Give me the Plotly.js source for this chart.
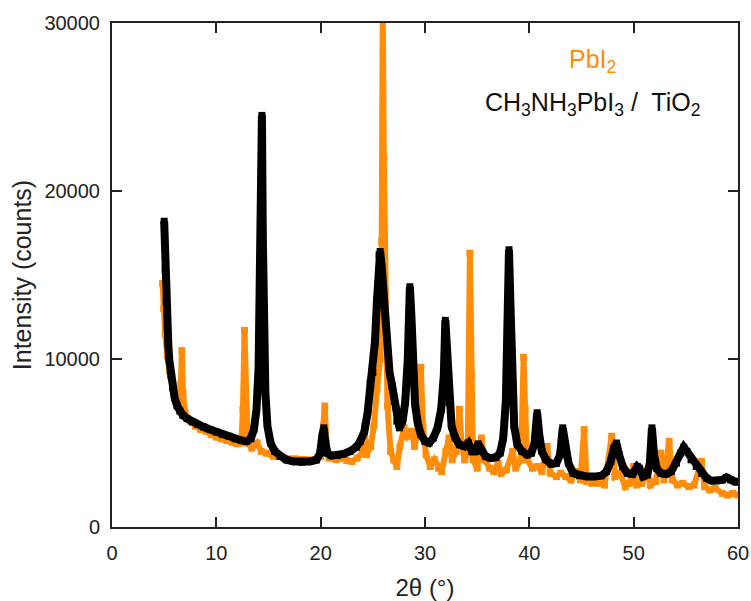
<!DOCTYPE html>
<html>
<head>
<meta charset="utf-8">
<script src="https://cdn.plot.ly/plotly-3.0.1.min.js"></script>
<style>html,body{margin:0;padding:0;background:#fff;}#chart{width:751px;height:601px;}</style>
</head>
<body>
<div id="chart"></div>
<script>
// CH3NH3PbI3 / TiO2 (black)
var perovX = [5.0,5.05,5.1,5.2,5.3,5.4,5.5,5.65,5.8,6.0,6.25,6.5,6.8,7.2,7.7,8.2,8.8,9.4,10.0,10.6,11.2,11.8,12.4,12.9,13.3,13.6,13.85,14.05,14.2,14.3,14.37,14.45,14.55,14.7,14.9,15.2,15.6,16.1,16.7,17.4,18.2,19.0,19.6,19.95,20.15,20.3,20.45,20.65,21.0,21.6,22.2,22.8,23.4,23.8,24.2,24.5,24.75,25.0,25.2,25.4,25.6,25.7,25.85,26.0,26.2,26.4,26.6,26.85,27.05,27.3,27.55,27.85,28.1,28.35,28.55,28.7,28.85,29.05,29.3,29.6,30.0,30.4,30.8,31.2,31.55,31.8,31.95,32.1,32.3,32.55,32.9,33.3,33.8,34.15,34.5,34.8,35.1,35.4,35.8,36.3,36.8,37.2,37.5,37.75,37.92,38.05,38.2,38.35,38.55,38.85,39.3,39.8,40.2,40.5,40.75,40.95,41.2,41.6,42.1,42.6,42.95,43.2,43.45,43.75,44.2,44.8,45.5,46.2,46.9,47.4,47.8,48.1,48.35,48.6,48.95,49.4,49.9,50.35,50.55,50.9,51.3,51.55,51.75,51.95,52.2,52.6,53.1,53.6,54.1,54.5,54.8,55.1,55.5,56.0,56.5,57.0,57.5,58.0,58.5,58.9,59.3,59.7,60.0];
var perovY = [18200,16800,15300,13400,11900,10800,9900,9000,8300,7700,7200,6900,6650,6450,6250,6100,5950,5800,5650,5500,5400,5250,5150,5100,5250,5800,7000,9500,14000,20000,24500,17500,11500,8000,6000,5000,4500,4200,4000,3900,3850,3900,4000,4400,5400,5900,5000,4400,4250,4250,4350,4500,4750,5100,5700,6800,8600,9200,11000,13500,16200,16400,15500,14000,12500,10500,9200,8400,7500,6300,5900,6300,7400,10000,14300,12500,9500,7300,6200,5500,5100,5000,5300,5900,7000,9000,12300,10500,7400,6000,5300,4900,4800,5000,4500,4500,4950,4500,4200,4100,4150,4400,5300,7500,11500,16500,13000,9000,6000,4900,4500,4300,4400,5000,6800,5500,4500,4000,3750,3800,4300,5900,4700,3800,3200,3050,3000,3000,3050,3300,3900,4700,5000,4300,3600,3200,3150,3600,3500,3000,3100,3800,5900,4300,3500,3200,3150,3300,3800,4400,4750,4500,4000,3600,3200,2900,2750,2750,2800,2950,2800,2700,2700];

// PbI2 (orange)
var pbi2X = [4.85,4.95,5.1,5.3,5.5,5.8,6.1,6.4,6.6,6.7,6.8,7.0,7.5,8.0,8.5,9.0,9.5,10.0,10.5,11.0,11.5,12.0,12.4,12.55,12.7,12.85,13.0,13.4,13.9,14.3,14.8,15.5,16.5,17.5,18.5,19.5,20.0,20.3,20.4,20.55,20.8,21.5,22.0,22.5,23.0,23.5,24.0,24.2,24.4,24.8,25.1,25.4,25.7,25.85,25.95,26.05,26.2,26.4,26.7,27.0,27.3,27.6,28.0,28.3,28.7,29.0,29.4,29.6,29.8,30.1,30.5,30.9,31.3,31.6,32.0,32.3,32.6,33.0,33.3,33.5,33.8,34.1,34.3,34.45,34.6,35.0,35.4,35.7,36.2,36.6,37.0,37.3,37.8,38.4,38.7,39.2,39.45,39.6,39.8,40.3,40.8,41.2,41.7,42.0,42.6,43.0,43.5,44.0,44.5,44.9,45.25,45.5,46.0,46.6,47.2,47.9,48.2,48.7,49.2,49.6,50.0,50.3,50.8,51.3,51.6,52.1,52.6,52.9,53.4,53.7,54.2,54.7,55.3,55.8,56.5,56.8,57.3,57.8,58.5,59.0,59.5,60.0];
var pbi2Y = [14500,13000,11500,10200,9300,8300,7500,7200,8500,10500,8000,6800,6300,6000,5800,5700,5500,5350,5250,5150,5050,4950,5000,7000,11700,7000,5000,4700,5000,4500,4400,4200,4100,4050,4000,4000,4200,6000,7200,5000,4100,4000,4100,3950,3900,4100,4400,6000,4300,4800,6000,8200,10000,17000,31000,22000,12000,7200,4500,4000,3600,4800,5900,5400,5700,4800,6000,9500,6000,4300,3600,4000,3500,3300,4500,5300,4000,4500,7000,5000,4000,4500,16300,9000,4000,3500,5300,4000,3500,3300,3800,3200,3400,4500,3500,4000,10100,7000,4000,3500,3600,3300,4800,3200,3000,3200,3000,2800,3300,2800,5800,2700,2600,2600,2500,5400,3000,3200,2400,2600,3600,2500,2600,3400,2500,2700,4400,2800,5100,2800,2500,2600,2400,2500,3900,2400,2200,2300,2000,1900,2000,1900];

var xTicks = [0,10,20,30,40,50,60];
var yTicks = [0,10000,20000,30000];
var seriesNames = ['PbI<sub>2</sub>','CH<sub>3</sub>NH<sub>3</sub>PbI<sub>3</sub> /  TiO<sub>2</sub>'];
var orange = '#ff8c0a';

var traces = [
  {x: pbi2X, y: pbi2Y, type: 'scatter', mode: 'lines+markers', name: seriesNames[0],
   line: {color: orange, width: 6}, marker: {symbol: 'square', size: 7, color: orange}},
  {x: perovX, y: perovY, type: 'scatter', mode: 'lines+markers', name: seriesNames[1],
   line: {color: '#000', width: 8}, marker: {symbol: 'square', size: 7, color: '#000'}}
];

var axisCommon = {
  showgrid: false, zeroline: false, showline: true, linecolor: '#222', linewidth: 2,
  mirror: 'ticks', ticks: 'inside', ticklen: 10, tickwidth: 2, tickcolor: '#222',
  tickfont: {family: 'Liberation Sans, Arial, sans-serif', size: 20, color: '#222'}
};

var layout = {
  width: 751, height: 601,
  margin: {l: 112, r: 13, t: 23, b: 74},
  paper_bgcolor: '#fff', plot_bgcolor: '#fff',
  showlegend: false,
  xaxis: Object.assign({}, axisCommon, {
    range: [0, 60], tickvals: xTicks, ticktext: xTicks.map(String),
    ticklabelstandoff: 7,
    title: {text: '2θ (°)', font: {family: 'Liberation Sans, Arial, sans-serif', size: 24, color: '#222'}, standoff: 24}
  }),
  yaxis: Object.assign({}, axisCommon, {
    range: [0, 30000], tickvals: yTicks, ticktext: yTicks.map(String),
    ticklabelstandoff: 6,
    title: {text: 'Intensity (counts)', font: {family: 'Liberation Sans, Arial, sans-serif', size: 25, color: '#222'}, standoff: 6}
  }),
  annotations: [
    {xref: 'paper', yref: 'paper', x: 0.767, y: 0.925, xanchor: 'center', yanchor: 'middle', showarrow: false,
     text: seriesNames[0], font: {family: 'Liberation Sans, Arial, sans-serif', size: 25, color: orange}},
    {xref: 'paper', yref: 'paper', x: 0.767, y: 0.84, xanchor: 'center', yanchor: 'middle', showarrow: false,
     text: seriesNames[1], font: {family: 'Liberation Sans, Arial, sans-serif', size: 25, color: '#111'}}
  ]
};

Plotly.newPlot('chart', traces, layout, {displayModeBar: false, staticPlot: true});
</script>
</body>
</html>
